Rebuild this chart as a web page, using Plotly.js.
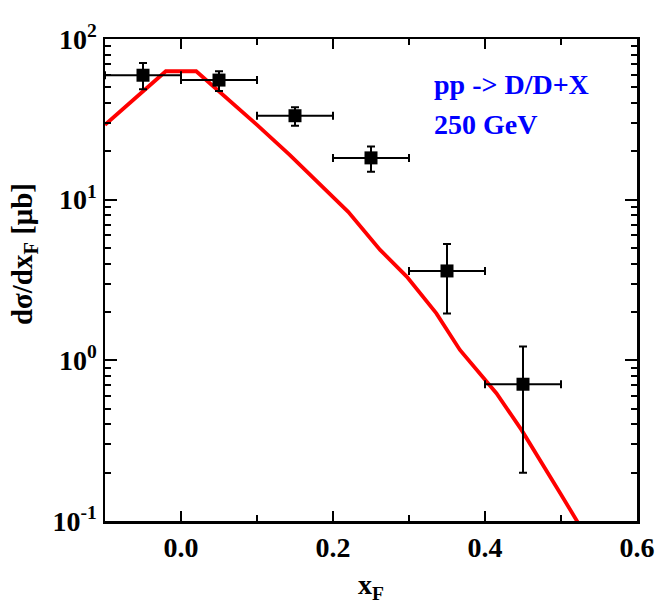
<!DOCTYPE html>
<html>
<head>
<meta charset="utf-8">
<script src="https://cdn.plot.ly/plotly-3.0.1.min.js"></script>
<style>html,body{margin:0;padding:0;background:#fff}#chart{width:657px;height:604px}</style>
</head>
<body>
<div id="chart"></div>
<script>
// Data points (x_F bins)
const dataX = [-0.05, 0.05, 0.15, 0.25, 0.35, 0.45];
const dataXErr = [0.05, 0.05, 0.05, 0.05, 0.05, 0.05];
const dataY = [59.5, 55.5, 33.3, 18.2, 3.6, 0.71];
const dataYErrPlus = [11.5, 7.5, 4.3, 3.2, 1.7, 0.51];
const dataYErrMinus = [10.8, 8.1, 4.5, 3.3, 1.64, 0.51];

// Model curve
const curveX = [-0.1, -0.02, 0.02, 0.056, 0.1, 0.143, 0.22, 0.262, 0.297, 0.336, 0.367, 0.415, 0.448, 0.499, 0.52, 0.53];
const curveY = [29.2, 63, 63, 44.9, 29.2, 19, 8.4, 4.87, 3.32, 1.96, 1.16, 0.624, 0.369, 0.149, 0.1, 0.085];

// Tick labels
const yTickVals = [0.1, 1, 10, 100];
const yTickText = ['10<sup>-1</sup>', '10<sup>0</sup>', '10<sup>1</sup>', '10<sup>2</sup>'];
const yMinorVals = [0.2,0.3,0.4,0.5,0.6,0.7,0.8,0.9,2,3,4,5,6,7,8,9,20,30,40,50,60,70,80,90];
const xTickVals = [0.0, 0.2, 0.4, 0.6];
const xTickText = ['0.0', '0.2', '0.4', '0.6'];
const xMinorVals = [-0.1, 0.1, 0.3, 0.5];

const yTitle = 'dσ/dx<sub>F</sub> [μb]';
const xTitle = 'x<sub>F</sub>';
const labelLines = ['pp -> D/D+X', '250 GeV'];

const font = {family: 'Liberation Serif, Times New Roman, serif', color: '#000'};

const traces = [
  {
    x: curveX, y: curveY, type: 'scatter', mode: 'lines',
    line: {color: '#ff0000', width: 3.8}, hoverinfo: 'skip'
  },
  {
    x: dataX, y: dataY, type: 'scatter', mode: 'markers',
    marker: {symbol: 'square', size: 13, color: '#000'},
    error_x: {type: 'data', array: dataXErr, color: '#000', thickness: 2, width: 4},
    error_y: {type: 'data', symmetric: false, array: dataYErrPlus, arrayminus: dataYErrMinus, color: '#000', thickness: 2, width: 4}
  }
];

const layout = {
  width: 657, height: 604,
  margin: {l: 105, r: 20, t: 39, b: 83},
  paper_bgcolor: '#fff', plot_bgcolor: '#fff',
  showlegend: false,
  font: Object.assign({}, font, {size: 28, weight: 'bold'}),
  xaxis: {
    range: [-0.1, 0.6],
    tickmode: 'array', tickvals: xTickVals, ticktext: xTickText,
    ticks: 'inside', ticklen: 10, tickwidth: 2, tickcolor: '#000',
    minor: {tickmode: 'array', tickvals: xMinorVals, ticks: 'inside', ticklen: 6, tickwidth: 2, tickcolor: '#000', showgrid: false},
    showline: true, linewidth: 2.5, linecolor: '#000', mirror: 'ticks',
    showgrid: false, zeroline: false,
    tickfont: Object.assign({}, font, {size: 28, weight: 'bold'}),
    title: {text: xTitle, font: Object.assign({}, font, {size: 28, weight: 'bold'}), standoff: 18}
  },
  yaxis: {
    type: 'log', range: [-1, 2],
    tickmode: 'array', tickvals: yTickVals, ticktext: yTickText,
    ticks: 'inside', ticklen: 12, tickwidth: 2, tickcolor: '#000',
    minor: {tickmode: 'array', tickvals: yMinorVals, ticks: 'inside', ticklen: 6, tickwidth: 2, tickcolor: '#000', showgrid: false},
    showline: true, linewidth: 2.5, linecolor: '#000', mirror: 'ticks',
    showgrid: false, zeroline: false,
    tickfont: Object.assign({}, font, {size: 28, weight: 'bold'})
  },
  annotations: [
    {xref: 'paper', yref: 'paper', x: -0.152, y: 0.554, xanchor: 'center', yanchor: 'middle', showarrow: false,
     textangle: -90, text: yTitle, font: Object.assign({}, font, {size: 29, weight: 'bold'})},
    {xref: 'paper', yref: 'paper', x: 0.615, y: 0.905, xanchor: 'left', yanchor: 'middle', showarrow: false,
     text: labelLines[0], font: Object.assign({}, font, {size: 28, weight: 'bold', color: '#0000ff'})},
    {xref: 'paper', yref: 'paper', x: 0.615, y: 0.822, xanchor: 'left', yanchor: 'middle', showarrow: false,
     text: labelLines[1], font: Object.assign({}, font, {size: 28, weight: 'bold', color: '#0000ff'})}
  ]
};

Plotly.newPlot('chart', traces, layout, {displayModeBar: false, staticPlot: true});
</script>
</body>
</html>
